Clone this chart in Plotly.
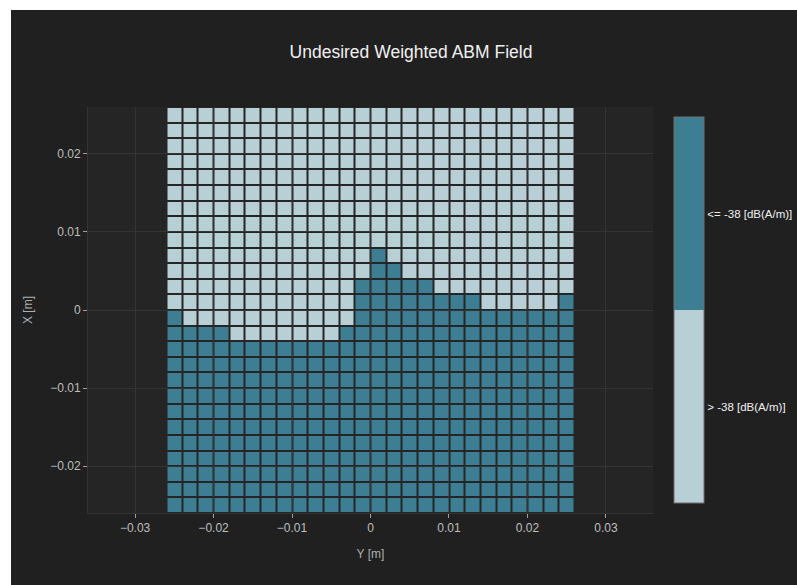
import plotly.graph_objects as go

# Cell centres (m)
y_centres = [-0.025, -0.023, -0.021, -0.019, -0.017, -0.015, -0.013, -0.011, -0.009,
             -0.007, -0.005, -0.003, -0.001, 0.001, 0.003, 0.005, 0.007, 0.009,
             0.011, 0.013, 0.015, 0.017, 0.019, 0.021, 0.023, 0.025]
x_centres = [0.025, 0.023, 0.021, 0.019, 0.017, 0.015, 0.013, 0.011, 0.009,
             0.007, 0.005, 0.003, 0.001, -0.001, -0.003, -0.005, -0.007, -0.009,
             -0.011, -0.013, -0.015, -0.017, -0.019, -0.021, -0.023, -0.025]

# 1 = <= -38 dB(A/m), 0 = > -38 dB(A/m); rows listed from top (X=0.025) to bottom
field_rows = [
    "00000000000000000000000000",
    "00000000000000000000000000",
    "00000000000000000000000000",
    "00000000000000000000000000",
    "00000000000000000000000000",
    "00000000000000000000000000",
    "00000000000000000000000000",
    "00000000000000000000000000",
    "00000000000000000000000000",
    "00000000000001000000000000",
    "00000000000001100000000000",
    "00000000000011111000000000",
    "00000000000011111111000001",
    "10000000000011111111111111",
    "11110000000111111111111111",
    "11111111111111111111111111",
    "11111111111111111111111111",
    "11111111111111111111111111",
    "11111111111111111111111111",
    "11111111111111111111111111",
    "11111111111111111111111111",
    "11111111111111111111111111",
    "11111111111111111111111111",
    "11111111111111111111111111",
    "11111111111111111111111111",
    "11111111111111111111111111",
]

legend_vals = [0.25, 0.75]
legend_text = ["> -38 [dB(A/m)]", "<= -38 [dB(A/m)]"]

LIGHT = "rgb(184,207,213)"
DARK = "rgb(62,126,147)"

z = [[int(c) for c in row] for row in field_rows]

fig = go.Figure(go.Heatmap(
    x=y_centres, y=x_centres, z=z,
    zmin=0, zmax=1,
    colorscale=[[0, LIGHT], [0.5, LIGHT], [0.5, DARK], [1, DARK]],
    xgap=2, ygap=2,
    colorbar=dict(
        tickvals=legend_vals, ticktext=legend_text, ticks="",
        outlinecolor="rgb(110,110,110)", outlinewidth=1,
        tickfont=dict(color="rgb(240,240,240)", size=11.5),
    ),
))

axis_common = dict(
    gridcolor="rgb(52,52,52)", zeroline=False,
    showline=True, linecolor="rgb(52,52,52)", linewidth=1,
    ticks="outside", ticklen=4, tickcolor="rgb(160,160,160)",
    tickfont=dict(color="rgb(190,190,190)", size=12),
    title_font=dict(color="rgb(175,175,175)", size=12),
)

fig.update_layout(
    width=800, height=600,
    margin=dict(l=77, r=158, t=97, b=97, autoexpand=False),
    paper_bgcolor="rgb(32,32,32)",
    plot_bgcolor="rgb(37,37,37)",
    font=dict(family="Arial", color="rgb(235,235,235)"),
    title=dict(text="Undesired Weighted ABM Field", x=0.5, xanchor="center",
               y=1 - 42 / 600, yanchor="middle", yref="container",
               font=dict(size=17.5, color="rgb(240,240,240)")),
    xaxis=dict(range=[-0.036, 0.036], title=dict(text="Y [m]"),
               tickvals=[-0.03, -0.02, -0.01, 0, 0.01, 0.02, 0.03], **axis_common),
    yaxis=dict(range=[-0.026, 0.026], title=dict(text="X [m]"),
               tickvals=[-0.02, -0.01, 0, 0.01, 0.02], **axis_common),
)

fig.write_html("out.html",
               post_script="document.body.style.margin='10px 0 0 11px';document.body.style.overflow='hidden';")
